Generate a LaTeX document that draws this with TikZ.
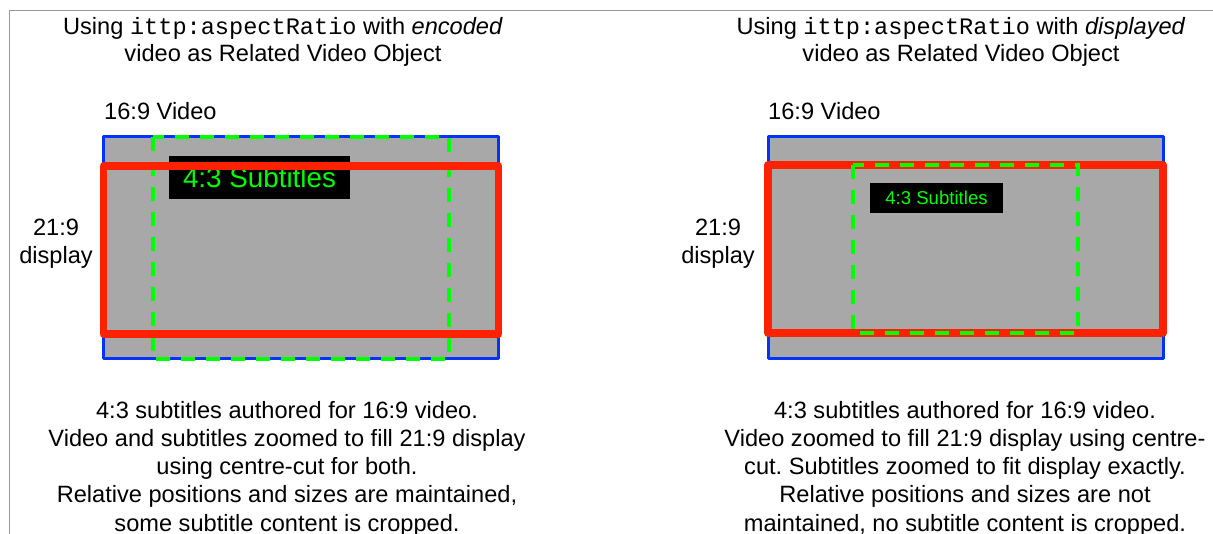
\documentclass[tikz,border=0pt]{standalone}
\usepackage{fontspec}
\setmainfont{Liberation Sans}
\setmonofont{Liberation Mono}
\usepackage{tikz}
\usetikzlibrary{positioning}
\definecolor{vidblue}{RGB}{0,51,255}
\definecolor{dispred}{RGB}{255,34,0}
\definecolor{subgreen}{RGB}{0,255,0}
\definecolor{vidgray}{RGB}{168,168,168}
\frenchspacing

\begin{document}
\begin{tikzpicture}[x=1pt, y=-1pt,
  txt/.style={align=center, inner sep=0pt, font=\fontsize{23.6}{27.5}\selectfont},
  note/.style={align=center, inner sep=0pt, font=\fontsize{23.6}{28.2}\selectfont},
  video/.style={fill=vidgray, draw=vidblue, line width=3pt, line join=round},
  display/.style={draw=dispred, line width=7.5pt, line join=round},
  safe/.style={draw=subgreen, line width=3.5pt, dash pattern=on 14pt off 11pt},
  subbox/.style={fill=black, text=subgreen, inner sep=0pt}]
  \useasboundingbox (0,0) rectangle (1213,534);
  \draw[black!40, line width=1.2pt] (9.5,534) -- (9.5,10.5) -- (1213,10.5);

  % encoded video
  \node[txt] (titleL) at (283,42) {Using \texttt{ittp:aspectRatio} with \textit{encoded}\\video as Related Video Object};
  \node[txt, anchor=base west] (videoL) at (104,120) {16:9 Video};
  \node[txt] (displayL) at (56,243.5) {21:9\\display};
  \draw[video] (103.5,137) rectangle (498.5,359);
  \draw[safe] (153,137) rectangle (449,359);
  \node[subbox, minimum width=181pt, minimum height=43pt, font=\fontsize{27.8}{30}\selectfont] (subL) at (259.5,177.5) {4:3 Subtitles};
  \draw[display] (103.5,166) rectangle (498.5,334);
  \node[note] (noteL) at (287,468.5) {4:3 subtitles authored for 16:9 video.\\
    Video and subtitles zoomed to fill 21:9 display\\
    using centre-cut for both.\\
    Relative positions and sizes are maintained,\\
    some subtitle content is cropped.};

  % displayed video
  \node[txt] (titleR) at (961,42) {Using \texttt{ittp:aspectRatio} with \textit{displayed}\\video as Related Video Object};
  \node[txt, anchor=base west] (videoR) at (768,120) {16:9 Video};
  \node[txt] (displayR) at (718,243.5) {21:9\\display};
  \draw[video] (768,137) rectangle (1163,359);
  \draw[display] (768,165) rectangle (1163,333);
  \draw[safe] (853,165) rectangle (1078,333);
  \node[subbox, minimum width=133pt, minimum height=30pt, font=\fontsize{18.6}{20}\selectfont] (subR) at (936.5,198) {4:3 Subtitles};
  \node[note] (noteR) at (965,468.5) {4:3 subtitles authored for 16:9 video.\\
    Video zoomed to fill 21:9 display using centre-\\
    cut. Subtitles zoomed to fit display exactly.\\
    Relative positions and sizes are not\\
    maintained, no subtitle content is cropped.};
\end{tikzpicture}
\end{document}
